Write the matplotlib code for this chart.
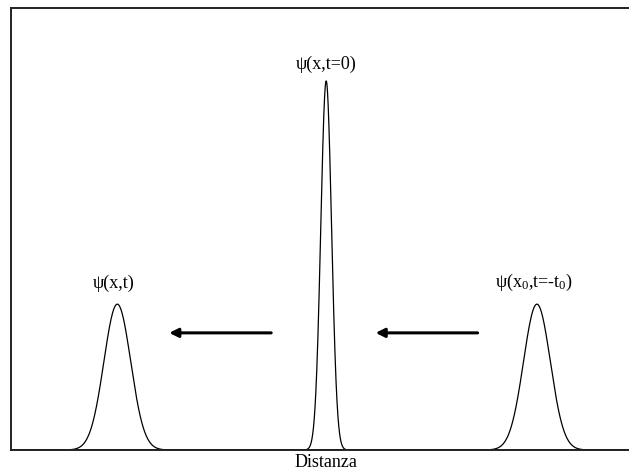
import numpy as np
import matplotlib
matplotlib.use("Agg")
import matplotlib.pyplot as plt

plt.rcParams['font.family'] = ['Liberation Serif', 'DejaVu Serif']
plt.rcParams['mathtext.fontset'] = 'custom'
plt.rcParams['mathtext.rm'] = 'Liberation Serif'
plt.rcParams['mathtext.it'] = 'Liberation Serif:italic'

# wave packets: centre, peak height, width (sigma)
centers = [17.2, 51.0, 85.1]
heights = [0.33, 0.835, 0.33]
sigmas = [2.17, 0.87, 2.17]

labels = ['ψ(x,t)', 'ψ(x,t=0)', 'ψ(x$_0$,t=-t$_0$)']
label_x = [16.6, 51.0, 84.6]
label_y = [0.378, 0.872, 0.378]

# arrows (tail x, head x) at common height
arrow_tail = [42.1, 75.5]
arrow_head = [25.6, 59.0]
arrow_y = 0.265

fig = plt.figure(figsize=(6.29, 4.70), dpi=100)
# the right edge of the frame runs off the picture
ax = fig.add_axes([11/629, 20/470, 1.0, 442/470])

x = np.linspace(0, 102, 4000)
for c, h, s in zip(centers, heights, sigmas):
    ax.plot(x, h * np.exp(-0.5 * ((x - c) / s) ** 2), color='black', lw=0.9)

for lx, ly, t in zip(label_x, label_y, labels):
    ax.text(lx, ly, t, ha='center', va='center', fontsize=13)

for xt, xh in zip(arrow_tail, arrow_head):
    ax.annotate('', xy=(xh, arrow_y), xytext=(xt, arrow_y),
                arrowprops=dict(arrowstyle='-|>', lw=2.2, color='black',
                                mutation_scale=13, shrinkA=0, shrinkB=0))

ax.set_xlim(0, 100 * 629 / 618)
ax.set_ylim(0, 1)
ax.set_xticks([])
ax.set_yticks([])
for sp in ax.spines.values():
    sp.set_linewidth(1.4)
    sp.set_color('#222222')
ax.set_xlabel('Distanza', fontsize=13, labelpad=3)

fig.savefig('out.png', dpi=100)
